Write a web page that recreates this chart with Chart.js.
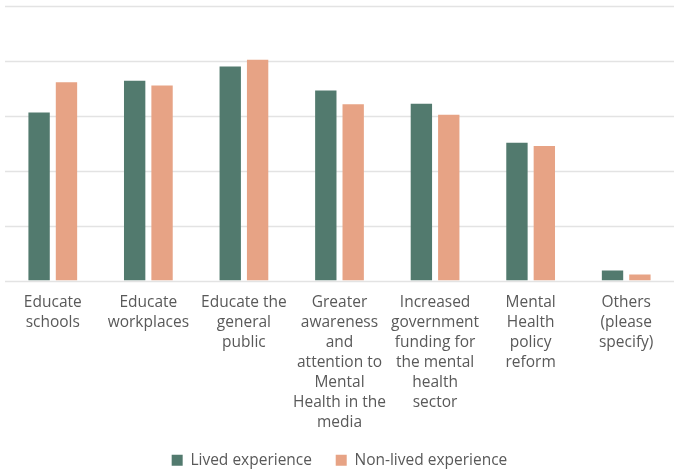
<!DOCTYPE html>
<html>
<head>
<meta charset="utf-8">
<script src="https://cdn.jsdelivr.net/npm/chart.js@4"></script>
<style>
  html, body { margin: 0; padding: 0; background: #fff; }
  #wrap { width: 674px; height: 470px; }
</style>
</head>
<body>
<div id="wrap"><canvas id="actionsChart"></canvas></div>
<script>
const categories = [
    ['Educate', 'schools'],
    ['Educate', 'workplaces'],
    ['Educate the', 'general', 'public'],
    ['Greater', 'awareness', 'and', 'attention to', 'Mental', 'Health in the', 'media'],
    ['Increased', 'government', 'funding for', 'the mental', 'health', 'sector'],
    ['Mental', 'Health', 'policy', 'reform'],
    ['Others', '(please', 'specify)']
];
const lived = [30.6, 36.4, 39.0, 34.6, 32.2, 25.1, 1.8];
const nonLived = [36.1, 35.5, 40.2, 32.1, 30.2, 24.5, 1.1];

const green = '#527A6E';
const salmon = '#E7A385';
const gridColor = '#E3E3E3';
const textColor = '#595959';

// horizontal gridlines run from the plot's left edge to the canvas edge
const wideGrid = {
    id: 'wideGrid',
    beforeDatasetsDraw(chart) {
        const ctx = chart.ctx;
        const y = chart.scales.y;
        ctx.save();
        ctx.strokeStyle = gridColor;
        ctx.lineWidth = 1.5;
        y.ticks.forEach(t => {
            const py = Math.round(y.getPixelForValue(t.value)) + 0.5;
            ctx.beginPath();
            ctx.moveTo(chart.chartArea.left, py);
            ctx.lineTo(chart.width, py);
            ctx.stroke();
        });
        ctx.restore();
    }
};

const ctx = document.getElementById('actionsChart').getContext('2d');
new Chart(ctx, {
    type: 'bar',
    data: {
        labels: categories,
        datasets: [
            { label: 'Lived experience', data: lived, backgroundColor: green },
            { label: 'Non-lived experience', data: nonLived, backgroundColor: salmon }
        ]
    },
    options: {
        responsive: true,
        maintainAspectRatio: false,
        animation: false,
        categoryPercentage: 0.573,
        barPercentage: 0.78,
        layout: { padding: { left: 5, right: 0, top: 6, bottom: -8 } },
        scales: {
            x: {
                grid: { display: false },
                border: { display: false },
                ticks: {
                    color: textColor,
                    font: { family: 'Open Sans', size: 15.5, lineHeight: '20px' },
                    maxRotation: 0,
                    autoSkip: false,
                    padding: 4
                }
            },
            y: {
                min: 0,
                max: 50,
                grid: { display: false, drawTicks: false },
                border: { display: false },
                ticks: { display: false, stepSize: 10 }
            }
        },
        plugins: {
            legend: {
                position: 'bottom',
                labels: {
                    color: textColor,
                    font: { family: 'Open Sans', size: 15.5 },
                    boxWidth: 11,
                    boxHeight: 11,
                    padding: 16,
                    // wider gap between the two entries
                    generateLabels(chart) {
                        const items = Chart.defaults.plugins.legend.labels.generateLabels(chart);
                        items.forEach((it, i) => {
                            if (i < items.length - 1) it.text += '\u2002';
                        });
                        return items;
                    }
                }
            },
            tooltip: { enabled: false }
        }
    },
    plugins: [wideGrid]
});
</script>
</body>
</html>
